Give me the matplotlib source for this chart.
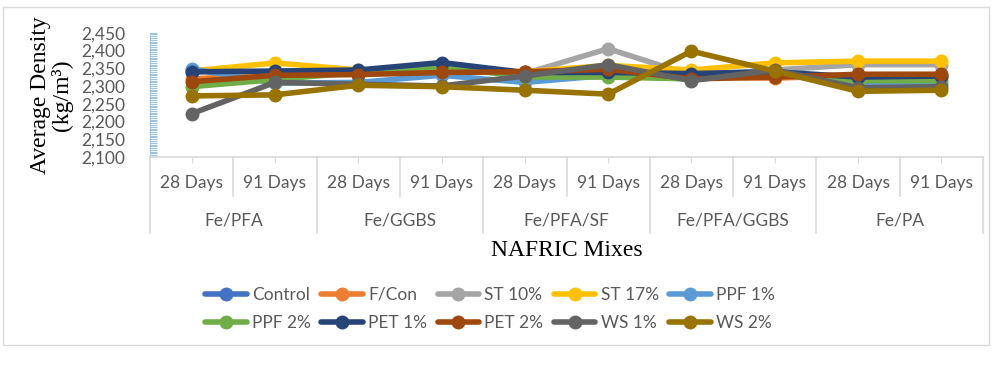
import numpy as np
import matplotlib.pyplot as plt
from matplotlib import transforms
from matplotlib.lines import Line2D
from matplotlib.patches import Rectangle
from matplotlib.ticker import MultipleLocator, FuncFormatter

# NAFRIC mixes, each tested at 28 and 91 days
groups = ['Fe/PFA', 'Fe/GGBS', 'Fe/PFA/SF', 'Fe/PFA/GGBS', 'Fe/PA']
ages = ['28 Days', '91 Days']

# average density (kg/m3), one value per mix/age
control = [2345, 2330, 2340, 2345, 2335, 2340, 2330, 2335, 2320, 2325]
f_con   = [2320, 2332, 2335, 2340, 2338, 2345, 2325, 2322, 2330, 2332]
st_10   = [2340, 2340, 2342, 2345, 2335, 2405, 2330, 2345, 2360, 2360]
st_17   = [2342, 2365, 2345, 2350, 2340, 2358, 2345, 2365, 2370, 2370]
ppf_1   = [2348, 2308, 2310, 2330, 2310, 2330, 2320, 2335, 2302, 2305]
ppf_2   = [2298, 2318, 2338, 2355, 2325, 2325, 2320, 2335, 2315, 2315]
pet_1   = [2340, 2342, 2345, 2366, 2338, 2338, 2335, 2340, 2325, 2328]
pet_2   = [2312, 2330, 2332, 2338, 2340, 2347, 2320, 2325, 2333, 2333]
ws_1    = [2222, 2310, 2305, 2300, 2328, 2360, 2315, 2345, 2295, 2298]
ws_2    = [2272, 2275, 2302, 2298, 2288, 2277, 2398, 2342, 2285, 2288]

series = [
    ('Control', control, '#4472C4'),
    ('F/Con', f_con, '#ED7D31'),
    ('ST 10%', st_10, '#A5A5A5'),
    ('ST 17%', st_17, '#FFC000'),
    ('PPF 1%', ppf_1, '#5B9BD5'),
    ('PPF 2%', ppf_2, '#70AD47'),
    ('PET 1%', pet_1, '#264478'),
    ('PET 2%', pet_2, '#9E480E'),
    ('WS 1%', ws_1, '#636363'),
    ('WS 2%', ws_2, '#997300'),
]

W, H = 992, 370
fig = plt.figure(figsize=(W / 100, H / 100), dpi=100)
ax = fig.add_axes([150 / W, 1 - 157 / H, 833 / W, (157 - 32.7) / H])

x = np.arange(len(groups) * len(ages))
handles = []
for name, vals, col in series:
    h, = ax.plot(x, vals, color=col, lw=4, marker='o', ms=9,
                 solid_capstyle='round', solid_joinstyle='round', label=name)
    handles.append(h)

ax.set_xlim(-0.5, len(x) - 0.5)
ax.set_ylim(2100, 2450)
ax.yaxis.set_major_locator(MultipleLocator(50))
ax.yaxis.set_minor_locator(MultipleLocator(5))
ax.yaxis.set_major_formatter(FuncFormatter(lambda v, p: f'{int(v):,}'))
ax.tick_params(axis='y', which='both', direction='in', color='#9DC3E6',
               length=5, width=0.8, labelsize=12.5, labelcolor='#595959', pad=18)
for lab in ax.get_yticklabels():
    lab.set_family('Lato')

for s in ['top', 'right']:
    ax.spines[s].set_visible(False)
ax.spines['left'].set_color('#9DC3E6')
ax.spines['bottom'].set_color('#D9D9D9')
ax.spines['bottom'].set_linewidth(1.2)
ax.set_xticks(x)
ax.set_xticklabels([])
ax.tick_params(axis='x', direction='out', length=4, color='#D9D9D9')

ax.set_ylabel('Average Density\n(kg/m\u00b3)', family='Liberation Serif',
              fontsize=17, labelpad=6, linespacing=0.95)

# two-level category axis below the plot
tr = transforms.blended_transform_factory(ax.transData, fig.transFigure)
y_axis = 1 - 157 / H
for gi, g in enumerate(groups):
    for ai, a in enumerate(ages):
        xi = gi * 2 + ai
        fig.text(xi, 1 - 183 / H, a, transform=tr, ha='center', va='center',
                 fontsize=12.5, family='Lato', color='#595959')
    fig.text(gi * 2 + 0.5, 1 - 221 / H, g, transform=tr, ha='center',
             va='center', fontsize=12.5, family='Lato', color='#595959')
    fig.add_artist(Line2D([gi * 2 + 0.5] * 2, [y_axis, 1 - 196 / H],
                          transform=tr, color='#D9D9D9', lw=1.2))
for b in np.arange(len(groups) + 1) * 2 - 0.5:
    fig.add_artist(Line2D([b, b], [y_axis, 1 - 233 / H], transform=tr,
                          color='#D9D9D9', lw=1.2))

fig.text(0.5 * (150 + 983) / W, 1 - 251 / H, 'NAFRIC Mixes', ha='center',
         va='center', family='Liberation Serif', fontsize=17)

# legend laid out row by row
order = [0, 5, 1, 6, 2, 7, 3, 8, 4, 9]
leg = fig.legend([handles[i] for i in order],
                 [series[i][0] for i in order],
                 ncol=5, loc='center', bbox_to_anchor=(490 / W, 1 - 309 / H),
                 frameon=False, prop={'family': 'Lato', 'size': 12.5},
                 handlelength=2.4, handletextpad=0.3, columnspacing=0.6,
                 labelspacing=0.7)
for t in leg.get_texts():
    t.set_color('#595959')

fig.add_artist(Rectangle((3 / W, 1 - 345 / H), 986 / W, 338 / H,
                         transform=fig.transFigure, fill=False,
                         edgecolor='#D9D9D9', lw=1))

fig.savefig('out.png', dpi=100)
